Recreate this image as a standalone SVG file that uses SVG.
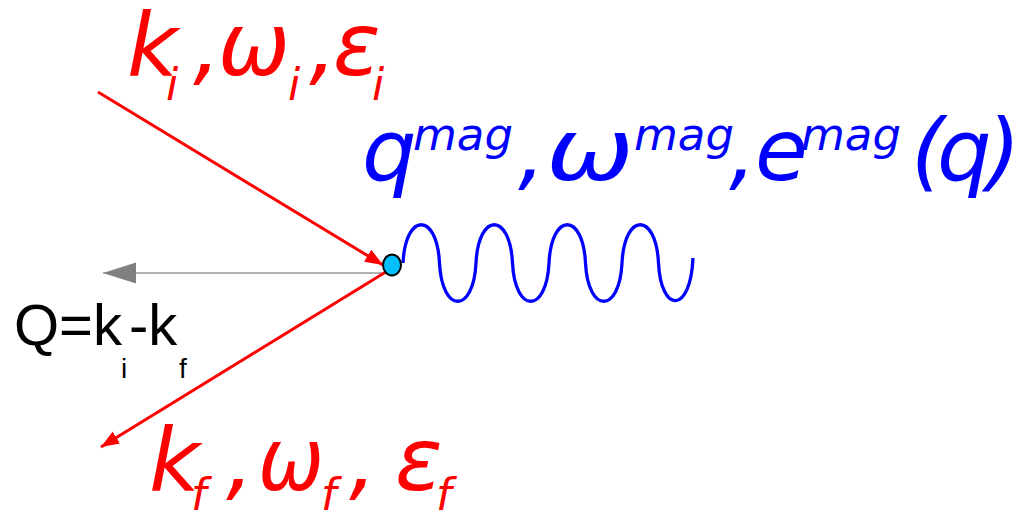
<svg xmlns="http://www.w3.org/2000/svg" width="1024" height="520" viewBox="0 0 1024 520">
<style>
.red{fill:#ff0000;font-family:"DejaVu Sans",sans-serif;font-style:italic}
.blue{fill:#0000ff;font-family:"DejaVu Sans",sans-serif;font-style:italic}
.blk{fill:#000;font-family:"Liberation Sans",Arial,sans-serif}
.big{font-size:88px}
.sub{font-size:44px}
.bbig{font-size:86px}
.sup{font-size:45px}
</style>
<defs>
<marker id="ar" markerUnits="userSpaceOnUse" markerWidth="20" markerHeight="16" refX="18" refY="7" orient="auto">
<path d="M0,0 L18,7 L0,14 z" fill="#ff0000"/>
</marker>
<marker id="ag" markerUnits="userSpaceOnUse" markerWidth="36" markerHeight="24" refX="33" refY="10.5" orient="auto">
<path d="M0,0 L33,10.5 L0,21 z" fill="#808080"/>
</marker>
</defs>
<g id="connectors">
<line x1="388" y1="273" x2="103" y2="273" stroke="#999" stroke-width="1.5" marker-end="url(#ag)"/>
<line x1="98" y1="92" x2="383" y2="265" stroke="#ff0000" stroke-width="3" marker-end="url(#ar)"/>
<line x1="389" y1="270" x2="101" y2="447" stroke="#ff0000" stroke-width="3" marker-end="url(#ar)"/>
<path id="wave" fill="none" stroke="#0000ff" stroke-width="3.3" d="M403,263 c2.5,-51 34,-51 36.5,0 c2.5,51 34,51 36.5,0 c2.5,-51 34,-51 36.5,0 c2.5,51 34,51 36.5,0 c2.5,-51 34,-51 36.5,0 c2.5,51 34,51 36.5,0 c2.5,-51 34,-51 36.5,0 c2.5,51 32,51 34.5,-5"/>
</g>
<g id="vertex">
<ellipse cx="392" cy="265" rx="9" ry="10.5" fill="#00bfff" stroke="#000" stroke-width="2"/>
</g>
<g id="incident-label" class="red">
<text class="big" x="127" y="75">k</text>
<text class="sub" x="166" y="100">i</text>
<text class="big" x="193" y="75">,</text>
<text class="big" x="218" y="75" textLength="72" lengthAdjust="spacingAndGlyphs">ω</text>
<text class="sub" x="288" y="100">i</text>
<text class="big" x="309" y="75">,</text>
<text class="big" x="333" y="75">ε</text>
<text class="sub" x="372" y="100">i</text>
</g>
<g id="magnon-label" class="blue">
<text class="bbig" x="362" y="180">q</text>
<text class="sup" x="413" y="150">mag</text>
<text class="bbig" x="518" y="180">,</text>
<text class="bbig" x="546" y="180" textLength="88" lengthAdjust="spacingAndGlyphs">ω</text>
<text class="sup" x="634" y="150">mag</text>
<text class="bbig" x="729" y="180">,</text>
<text class="bbig" x="755" y="180">e</text>
<text class="sup" x="801" y="150">mag</text>
<text class="bbig" x="911" y="180">(</text>
<text class="bbig" x="937" y="180">q</text>
<text class="bbig" x="987" y="180">)</text>
</g>
<g id="final-label" class="red">
<text class="big" x="149" y="490">k</text>
<text class="sub" x="191" y="510">f</text>
<text class="big" x="226" y="490">,</text>
<text class="big" x="258" y="490" textLength="66" lengthAdjust="spacingAndGlyphs">ω</text>
<text class="sub" x="321" y="510">f</text>
<text class="big" x="349" y="490">,</text>
<text class="big" x="395" y="490">ε</text>
<text class="sub" x="436" y="510">f</text>
</g>
<g id="q-label" class="blk">
<text x="14" y="345" font-size="58">Q=k</text>
<text x="121" y="378" font-size="28">i</text>
<text x="129" y="345" font-size="58">-k</text>
<text x="179" y="378" font-size="28">f</text>
</g>
</svg>
